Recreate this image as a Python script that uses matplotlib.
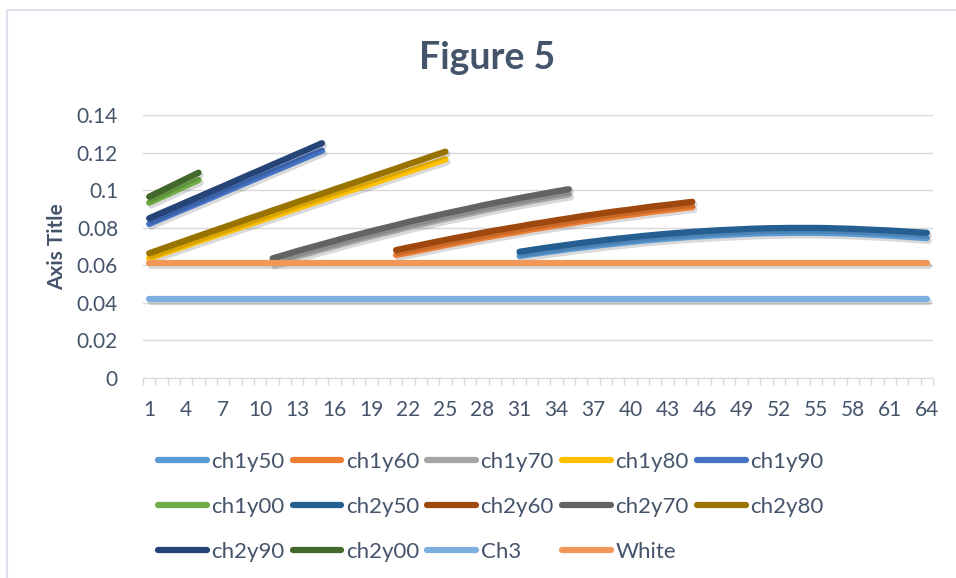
import numpy as np
import matplotlib
matplotlib.use("Agg")
import matplotlib.pyplot as plt
import matplotlib.patheffects as pe
from matplotlib.lines import Line2D

plt.rcParams['font.family'] = ['Lato', 'DejaVu Sans']

# данные
x_ch1y00 = list(range(1, 6))
ch1y00 = [0.0933, 0.0963, 0.0993, 0.1024, 0.1054]
ch2y00 = [0.0965, 0.0997, 0.1029, 0.1061, 0.1093]

x_ch1y90 = list(range(1, 16))
ch1y90 = [0.0820, 0.0848, 0.0876, 0.0904, 0.0931, 0.0959, 0.0987, 0.1015,
          0.1043, 0.1071, 0.1099, 0.1126, 0.1154, 0.1182, 0.1210]
ch2y90 = [0.0850, 0.0879, 0.0907, 0.0936, 0.0964, 0.0993, 0.1021, 0.1050,
          0.1079, 0.1107, 0.1136, 0.1164, 0.1193, 0.1221, 0.1250]

x_ch1y80 = list(range(1, 26))
ch1y80 = [0.0637, 0.0660, 0.0683, 0.0705, 0.0728, 0.0750, 0.0772, 0.0794,
          0.0816, 0.0838, 0.0860, 0.0882, 0.0904, 0.0926, 0.0948, 0.0970,
          0.0992, 0.1013, 0.1034, 0.1056, 0.1078, 0.1099, 0.1121, 0.1142,
          0.1164]
ch2y80 = [0.0664, 0.0687, 0.0710, 0.0733, 0.0756, 0.0779, 0.0801, 0.0824,
          0.0847, 0.0869, 0.0892, 0.0914, 0.0937, 0.0959, 0.0981, 0.1004,
          0.1026, 0.1048, 0.1071, 0.1093, 0.1115, 0.1138, 0.1160, 0.1183,
          0.1205]

x_ch1y70 = list(range(11, 36))
ch1y70 = [0.0610, 0.0628, 0.0648, 0.0666, 0.0684, 0.0702, 0.0720, 0.0737,
          0.0754, 0.0770, 0.0786, 0.0803, 0.0818, 0.0833, 0.0848, 0.0862,
          0.0876, 0.0891, 0.0904, 0.0917, 0.0930, 0.0942, 0.0954, 0.0966,
          0.0976]
ch2y70 = [0.0637, 0.0656, 0.0676, 0.0694, 0.0712, 0.0730, 0.0748, 0.0765,
          0.0782, 0.0798, 0.0814, 0.0831, 0.0846, 0.0861, 0.0876, 0.0890,
          0.0904, 0.0919, 0.0932, 0.0945, 0.0958, 0.0970, 0.0982, 0.0994,
          0.1005]

x_ch1y60 = list(range(21, 46))
ch1y60 = [0.0655, 0.0667, 0.0680, 0.0694, 0.0707, 0.0720, 0.0732, 0.0745,
          0.0757, 0.0768, 0.0779, 0.0791, 0.0801, 0.0812, 0.0822, 0.0833,
          0.0842, 0.0852, 0.0861, 0.0869, 0.0878, 0.0887, 0.0894, 0.0902,
          0.0910]
ch2y60 = [0.0681, 0.0695, 0.0708, 0.0722, 0.0735, 0.0748, 0.0760, 0.0773,
          0.0785, 0.0796, 0.0807, 0.0819, 0.0829, 0.0840, 0.0850, 0.0861,
          0.0870, 0.0880, 0.0889, 0.0897, 0.0906, 0.0915, 0.0922, 0.0930,
          0.0938]

x_ch1y50 = list(range(31, 65))
ch1y50 = [0.0649, 0.0659, 0.0668, 0.0677, 0.0686, 0.0694, 0.0702, 0.0710,
          0.0717, 0.0724, 0.0731, 0.0737, 0.0742, 0.0747, 0.0752, 0.0756,
          0.0760, 0.0763, 0.0766, 0.0769, 0.0771, 0.0772, 0.0773, 0.0773,
          0.0773, 0.0772, 0.0770, 0.0768, 0.0765, 0.0762, 0.0758, 0.0754,
          0.0749, 0.0744]
ch2y50 = [0.0672, 0.0682, 0.0692, 0.0701, 0.0710, 0.0719, 0.0727, 0.0735,
          0.0742, 0.0749, 0.0756, 0.0762, 0.0768, 0.0773, 0.0778, 0.0782,
          0.0786, 0.0789, 0.0792, 0.0795, 0.0797, 0.0798, 0.0799, 0.0799,
          0.0799, 0.0798, 0.0796, 0.0794, 0.0791, 0.0788, 0.0785, 0.0781,
          0.0777, 0.0773]

x_all = list(range(1, 65))
ch3 = [0.042] * 64
white = [0.0612] * 64

series = [
    ('ch1y50', x_ch1y50, ch1y50, '#5B9BD5'),
    ('ch1y60', x_ch1y60, ch1y60, '#ED7D31'),
    ('ch1y70', x_ch1y70, ch1y70, '#A5A5A5'),
    ('ch1y80', x_ch1y80, ch1y80, '#FFC000'),
    ('ch1y90', x_ch1y90, ch1y90, '#4472C4'),
    ('ch1y00', x_ch1y00, ch1y00, '#70AD47'),
    ('ch2y50', x_ch1y50, ch2y50, '#255E91'),
    ('ch2y60', x_ch1y60, ch2y60, '#9E480E'),
    ('ch2y70', x_ch1y70, ch2y70, '#636363'),
    ('ch2y80', x_ch1y80, ch2y80, '#997300'),
    ('ch2y90', x_ch1y90, ch2y90, '#264478'),
    ('ch2y00', x_ch1y00, ch2y00, '#43682B'),
    ('Ch3', x_all, ch3, '#7CAFDD'),
    ('White', x_all, white, '#F1975A'),
]

text_color = '#44546A'
grid_color = '#D9D9D9'

fig = plt.figure(figsize=(9.56, 5.78), dpi=100)
ax = fig.add_axes([143 / 956, 1 - 378 / 578, 790 / 956, 263 / 578])

shadow = [pe.SimpleLineShadow(offset=(1.5, -2), shadow_color='black', alpha=0.15),
          pe.Normal()]

handles = {}
for name, xs, ys, col in series:
    ax.plot(xs, ys, color=col, lw=4.5, solid_capstyle='round', path_effects=shadow, zorder=3)
    handles[name] = Line2D([], [], color=col, lw=4.5, solid_capstyle='round')

ax.set_xlim(0.5, 64.5)
ax.set_ylim(0, 0.14)
ax.set_yticks(np.arange(0, 0.141, 0.02))
ax.set_yticklabels(['0', '0.02', '0.04', '0.06', '0.08', '0.1', '0.12', '0.14'])
ax.set_xticks(range(1, 65, 3))
ax.set_xticks(np.arange(0.5, 65, 1), minor=True)
ax.tick_params(axis='x', which='major', length=0, pad=16, labelsize=15, labelcolor=text_color)
ax.tick_params(axis='x', which='minor', length=5, color=grid_color, width=1)
ax.tick_params(axis='y', length=0, pad=18, labelsize=15, labelcolor=text_color)
ax.grid(axis='y', color=grid_color, lw=1, zorder=0)
ax.set_axisbelow(True)
for s in ['top', 'right', 'left']:
    ax.spines[s].set_visible(False)
ax.spines['bottom'].set_color(grid_color)

ax.set_ylabel('Axis Title', fontsize=15, fontweight='bold', color=text_color, labelpad=7)
fig.text(487 / 956, 1 - 58 / 578, 'Figure 5', ha='center', va='center',
         fontsize=27, fontweight='bold', color=text_color)

# легенда: matplotlib заполняет по столбцам, Excel — по строкам
order = ['ch1y50', 'ch1y00', 'ch2y90',
         'ch1y60', 'ch2y50', 'ch2y00',
         'ch1y70', 'ch2y60', 'Ch3',
         'ch1y80', 'ch2y70', 'White',
         'ch1y90', 'ch2y80']
fig.legend([handles[n] for n in order], order, ncol=5, loc='upper left',
           bbox_to_anchor=(158 / 956, 1 - 452 / 578), frameon=False,
           fontsize=16, labelcolor=text_color, handlelength=2.2,
           handletextpad=0.2, columnspacing=0.36, labelspacing=1.12,
           borderaxespad=0, borderpad=0)

# рамка области диаграммы
fig.add_artist(Line2D([7 / 956, 1], [1 - 10 / 578, 1 - 10 / 578], color='#DDE2EA', lw=1.5))
fig.add_artist(Line2D([7 / 956, 7 / 956], [0, 1 - 10 / 578], color='#DDE2EA', lw=1.5))

plt.savefig('out.png', dpi=100)
